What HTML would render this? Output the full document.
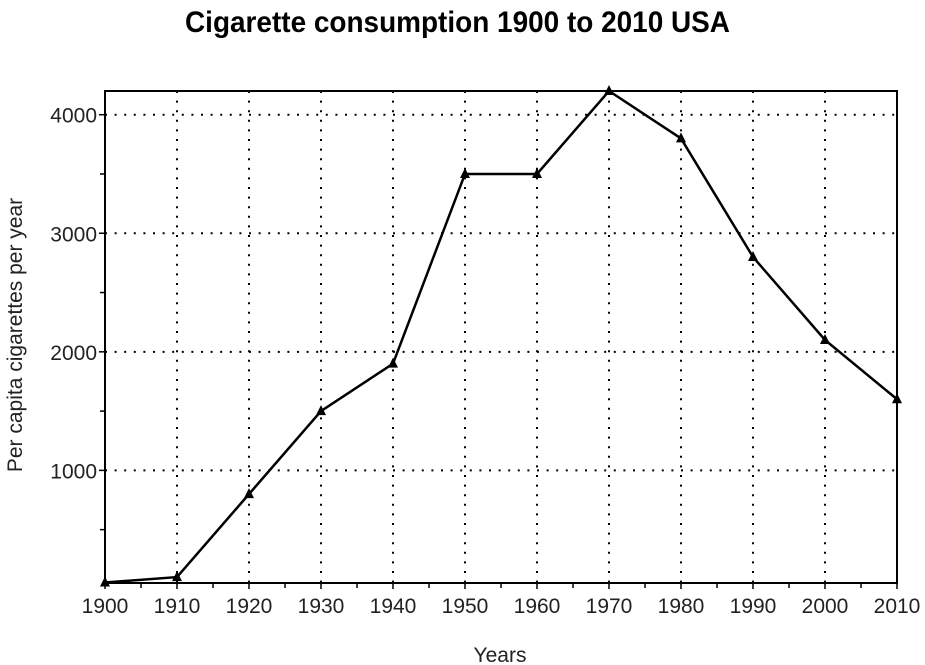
<!DOCTYPE html>
<html><head><meta charset="utf-8"><style>
body{margin:0;background:#fff;}
svg{display:block;font-family:"Liberation Sans",sans-serif;}
</style></head><body>
<svg id="chart" width="925" height="665">
<text x="185" y="32" textLength="545" lengthAdjust="spacingAndGlyphs" font-family="'Liberation Sans Narrow','Liberation Sans',sans-serif" font-weight="bold" font-size="30">Cigarette consumption 1900 to 2010 USA</text>
<g id="grid"></g>
<g id="axes"></g>
<g id="series"></g>
<text x="500" y="662" text-anchor="middle" font-size="21" fill="#222">Years</text>
<text transform="translate(22,335) rotate(-90)" text-anchor="middle" font-size="21" fill="#222">Per capita cigarettes per year</text>
</svg>
<script>
const years=[1900,1910,1920,1930,1940,1950,1960,1970,1980,1990,2000,2010];
const values=[54,100,800,1500,1900,3500,3500,4200,3800,2800,2100,1600];
const yTicks=[1000,2000,3000,4000];
const xMin=1900,xMax=2010,yMin=50,yMax=4200;
const L=105,R=897,T=91,B=583;
function sx(v){return L+(v-xMin)/(xMax-xMin)*(R-L);}
function sy(v){return B-(v-yMin)/(yMax-yMin)*(B-T);}
const NS="http://www.w3.org/2000/svg";
function mk(tag,attrs,parent){const e=document.createElementNS(NS,tag);for(const k in attrs)e.setAttribute(k,attrs[k]);parent.appendChild(e);return e;}
const grid=document.getElementById('grid'),axes=document.getElementById('axes'),series=document.getElementById('series');
years.forEach(y=>{
  if(y>xMin&&y<xMax){const g=mk('line',{x1:sx(y),x2:sx(y),y1:T,y2:B,stroke:'#000','stroke-width':2,'stroke-dasharray':'2 7.6'},grid);
  
  }
  const t=mk('text',{x:sx(y),y:613,'text-anchor':'middle','font-size':21,fill:'#222'},axes);t.textContent=y;
  
  
  mk('line',{x1:sx(y),x2:sx(y),y1:B,y2:B+6,stroke:'#000','stroke-width':1.5},axes);
  if(y<xMax) mk('line',{x1:sx(y+5),x2:sx(y+5),y1:B,y2:B+5,stroke:'#000','stroke-width':1.5},axes);
});
yTicks.forEach(v=>{
  const g=mk('line',{x1:L,x2:R,y1:sy(v),y2:sy(v),stroke:'#000','stroke-width':2,'stroke-dasharray':'2 7.6'},grid);
  
  
  const t=mk('text',{x:L-8,y:sy(v)+8,'text-anchor':'end','font-size':21,fill:'#222'},axes);t.textContent=v;
  
  
  mk('line',{x1:L-6,x2:L,y1:sy(v),y2:sy(v),stroke:'#000','stroke-width':1.5},axes);
});
for(let v=500;v<yMax;v+=1000){mk('line',{x1:L-5,x2:L,y1:sy(v),y2:sy(v),stroke:'#000','stroke-width':1.5},axes);}
mk('rect',{x:L,y:T,width:R-L,height:B-T,fill:'none',stroke:'#000','stroke-width':2},axes);
const pts=years.map((y,i)=>sx(y)+','+sy(values[i])).join(' ');
const line=mk('polyline',{points:pts,fill:'none',stroke:'#000','stroke-width':2.5},series);


years.forEach((y,i)=>{const x=sx(y),yy=sy(values[i]);
  const m=mk('polygon',{points:`${x},${yy-6} ${x-5},${yy+4} ${x+5},${yy+4}`,fill:'#000'},series);
  
  });
</script>
</body></html>
